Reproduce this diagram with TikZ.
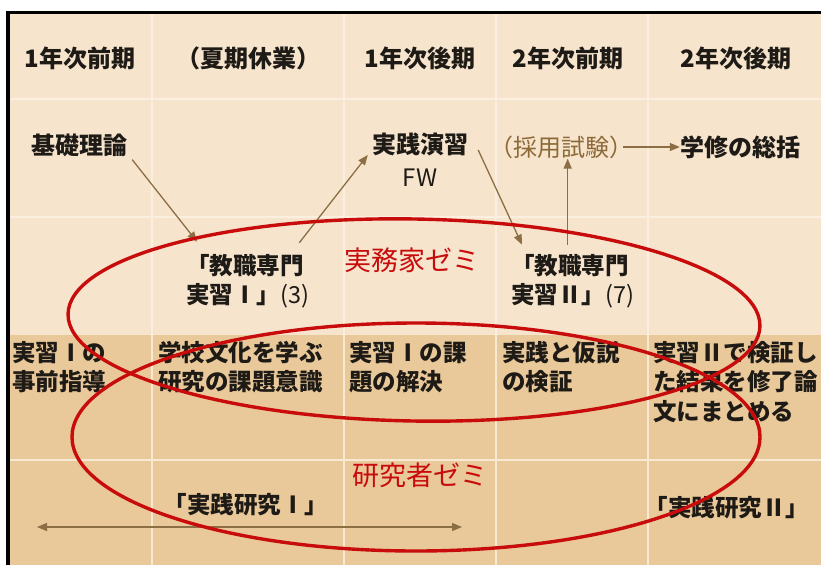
\documentclass[tikz,border=0pt]{standalone}
\usepackage{fontspec}
\setmainfont{Noto Sans CJK JP}
\usetikzlibrary{arrows.meta}
\definecolor{bgup}{RGB}{246,228,205}
\definecolor{bglo}{RGB}{233,200,153}
\definecolor{gridup}{RGB}{251,239,224}
\definecolor{gridlo}{RGB}{248,233,210}
\definecolor{arrbrown}{RGB}{139,110,68}
\definecolor{zemired}{RGB}{200,12,12}
\definecolor{txtbrown}{RGB}{140,105,55}
\definecolor{ink}{RGB}{30,26,22}
\begin{document}
\begin{tikzpicture}[x=1pt,y=-1pt,
  hdr/.style={inner sep=0pt, font=\fontsize{24}{30}\selectfont\bfseries, text=ink},
  cell/.style={inner sep=0pt, align=left, font=\fontsize{23.5}{29.5}\selectfont\bfseries, text=ink},
  zemi/.style={inner sep=0pt, font=\fontsize{27}{32}\selectfont, text=zemired},
  arr/.style={draw=arrbrown, line width=1.3pt, -{Triangle[length=10pt,width=8pt]}},
  darr/.style={draw=arrbrown, line width=1.3pt, {Triangle[length=10pt,width=8pt]}-{Triangle[length=10pt,width=8pt]}},
  ring/.style={draw=zemired, line width=3.4pt}
]
\fill[white] (0,0) rectangle (821,565);
\useasboundingbox (0,0) rectangle (821,565);
\fill[bgup] (8,12.8) rectangle (821,335);
\fill[bglo] (8,335) rectangle (821,565);
% grid lines
\draw[gridup, line width=2.5pt] (8,99) -- (821,99);
\draw[gridup, line width=2pt] (8,217) -- (821,217);
\draw[gridlo, line width=2pt] (8,460) -- (821,460);
\foreach \x in {152,344,496,648} {
  \draw[gridup, line width=2pt] (\x,12.8) -- (\x,335);
  \draw[gridlo, line width=2pt] (\x,335) -- (\x,565);
}
% frame
\draw[black, line width=3.2pt] (8,565) -- (8,12.8) -- (821,12.8);

% header row
\node[hdr] (h1) at (80,58) {1年次前期};
\node[hdr] (h2) at (248,58) {（夏期休業）};
\node[hdr] (h3) at (420,58) {1年次後期};
\node[hdr] (h4) at (568,58) {2年次前期};
\node[hdr] (h5) at (736,58) {2年次後期};

% second row
\node[hdr] (kiso) at (79,145) {基礎理論};
\node[hdr, align=center, font=\fontsize{24}{33}\selectfont\bfseries] (jissen) at (420,160) {実践演習\\{\mdseries FW}};
\node[hdr, text=txtbrown, font=\fontsize{24}{30}\selectfont] (saiyo) at (561,147) {（採用試験）};
\node[hdr] (gakushu) at (740,147) {学修の総括};

% third row
\node[cell, anchor=west] (kyo1) at (186,281) {「教職専門\\実習Ⅰ」{\mdseries(3)}};
\node[cell, anchor=west] (kyo2) at (511,281) {「教職専門\\実習Ⅱ」{\mdseries(7)}};
\node[zemi] (zemiA) at (412,260) {実務家ゼミ};

% fourth row
\node[cell, anchor=west] (r4a) at (12,367) {実習Ⅰの\\事前指導};
\node[cell, anchor=west] (r4b) at (158,367) {学校文化を学ぶ\\研究の課題意識};
\node[cell, anchor=west] (r4c) at (349,367) {実習Ⅰの課\\題の解決};
\node[cell, anchor=west] (r4d) at (502,367) {実践と仮説\\の検証};
\node[cell, anchor=west] (r4e) at (653,382) {実習Ⅱで検証し\\た結果を修了論\\文にまとめる};

% fifth row
\node[zemi] (zemiB) at (420,475) {研究者ゼミ};
\node[cell] (ken1) at (246,505) {「実践研究Ⅰ」};
\node[cell] (ken2) at (727,508) {「実践研究Ⅱ」};

% arrows
\draw[arr] ([shift={(5,3)}]kiso.south east) -- ([shift={(11,-12)}]kyo1.north west);
\draw[arr] ([shift={(-10,-11)}]kyo1.north east) -- ([shift={(-4,-5)}]jissen.west);
\draw[arr] ([shift={(10,-10)}]jissen.east) -- ([shift={(11,-9)}]kyo2.north west);
\coordinate (k2top) at ([shift={(-5,-9)}]kyo2.north);
\draw[arr] (k2top) -- (k2top |- saiyo.south);
\draw[arr] ([shift={(-10,0)}]saiyo.east) -- (gakushu.west);
\coordinate (bl) at (37,527);
\coordinate (br) at (462,527);
\draw[darr] (bl) -- (br);

% seminar rings
\draw[ring] (414,320) ellipse [x radius=346, y radius=101, rotate=-1];
\draw[ring] (416,437) ellipse [x radius=344, y radius=114];
\end{tikzpicture}
\end{document}
